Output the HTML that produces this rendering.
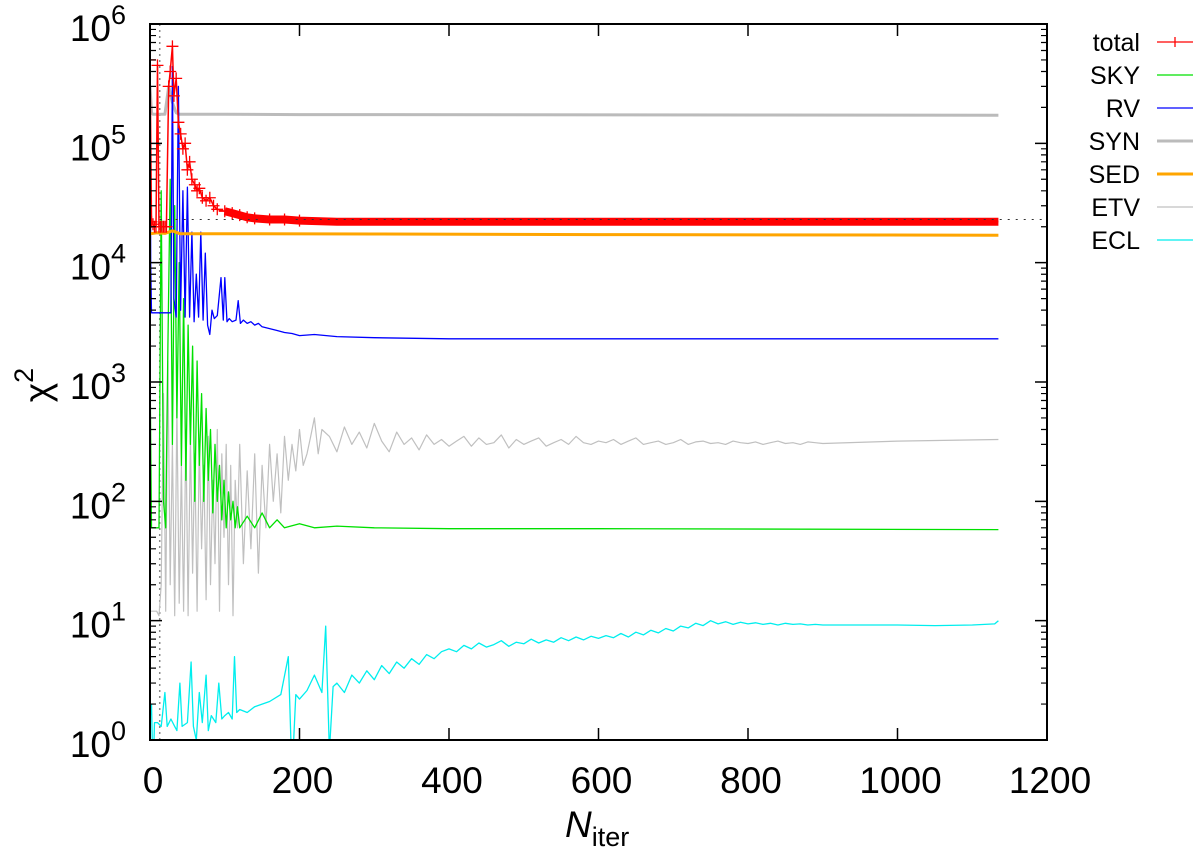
<!DOCTYPE html>
<html><head><meta charset="utf-8"><style>
html,body{margin:0;padding:0;background:#fff;}
svg{display:block;font-family:"Liberation Sans",sans-serif;}
</style></head><body>
<svg id="chart" width="1200" height="860" viewBox="0 0 1200 860" xmlns="http://www.w3.org/2000/svg">
<defs><clipPath id="plotclip"><rect x="150" y="24" width="897" height="716"/></clipPath></defs>
<g id="series" clip-path="url(#plotclip)"></g>
<g id="axes"></g>
<g id="legend"></g>
</svg>
<script>
// ---- data ----
const xTicks = [0,200,400,600,800,1000,1200];
const yDecades = [0,1,2,3,4,5,6];
const seriesNames = ["total","SKY","RV","SYN","SED","ETV","ECL"];

const totalN = [0,2,4,6,8,10,12,14,16,18,20,22,25,27,30,32,35,38,41,44,47,50,53,56,60,63,66,70,75,80,85,90,100,110,120,130,140,160,180,200,250,300,350,400,450,500,550,600,650,700,750,800,850,900,950,1000,1050,1100,1135];
const totalV = [5e5,2.2e4,2.1e4,2e4,2e4,4.5e5,2e4,2e4,2e4,2e4,2e4,2e4,3e5,4e5,6.5e5,2.5e5,3.5e5,1.5e5,1.2e5,9e4,1e5,6e4,7e4,5e4,4.5e4,4e4,4.2e4,3.5e4,3.3e4,3.5e4,3e4,2.8e4,2.7e4,2.6e4,2.5e4,2.4e4,2.35e4,2.3e4,2.3e4,2.25e4,2.2e4,2.2e4,2.2e4,2.2e4,2.2e4,2.2e4,2.2e4,2.2e4,2.2e4,2.2e4,2.2e4,2.2e4,2.2e4,2.2e4,2.2e4,2.2e4,2.2e4,2.2e4,2.2e4];

const skyN = [0,2,4,6,8,10,12,15,18,21,24,27,30,33,36,39,42,45,48,51,54,57,60,63,66,69,72,75,78,81,84,87,90,93,96,99,102,105,108,111,114,117,120,130,140,150,160,170,180,200,220,250,300,400,600,1135];
const skyV = [1500,60,60,60,60,60,60,4e4,100,60,2e3,5e4,300,3e4,500,1e4,200,5e3,150,3e3,300,2e3,100,1.5e3,200,800,100,600,150,400,80,300,100,200,70,150,60,120,70,100,60,90,60,75,60,80,60,70,60,65,60,62,60,59,59,58];

const rvN = [0,1,2,28,30,32,35,38,41,44,47,50,53,56,59,62,65,68,71,74,77,80,83,86,90,95,98,100,103,106,110,115,118,121,125,130,135,140,145,150,160,170,180,190,200,220,250,300,400,1135];
const rvV = [6e5,1e4,3.8e3,3.8e3,4.4e5,5e3,3.5e3,3e5,4e3,4e4,3.5e3,4.3e4,3.5e3,1.8e4,3.2e3,8e3,3.5e3,1.8e4,3.3e3,1.2e4,3e3,2.5e3,4e3,3.4e3,3.6e3,7.5e3,3.3e3,7.5e3,3.2e3,3.4e3,3.2e3,3.3e3,4.8e3,3.1e3,3.3e3,3.1e3,3.2e3,3e3,3.1e3,2.9e3,2.8e3,2.7e3,2.6e3,2.55e3,2.45e3,2.5e3,2.4e3,2.35e3,2.3e3,2.3e3];

const synN = [0,2,4,6,10,20,25,30,35,40,50,100,200,1135];
const synV = [3e5,1.8e5,1.75e5,1.75e5,1.75e5,1.75e5,3e5,2.2e5,1.8e5,1.75e5,1.75e5,1.75e5,1.74e5,1.72e5];

const sedN = [0,10,20,30,40,100,300,600,1135];
const sedV = [1.75e4,1.78e4,1.76e4,1.85e4,1.75e4,1.75e4,1.74e4,1.72e4,1.7e4];

const etvN = [0,3,6,9,12,15,18,21,24,27,30,33,36,39,42,45,48,51,54,57,60,63,66,69,72,75,78,81,84,87,90,93,96,99,102,105,108,111,114,117,120,
125,130,135,140,145,150,155,160,165,170,175,180,185,190,195,200,205,210,215,220,225,230,
240,250,260,270,280,290,300,310,320,330,340,350,360,370,380,390,400,
410,420,430,440,450,460,470,480,490,500,510,520,530,540,550,560,570,580,590,600,
610,620,630,640,650,660,670,680,690,700,710,720,730,740,750,760,770,780,790,800,810,820,830,840,850,860,870,880,890,900,1000,1135];
const etvV = [12,12,12,12,11,20,800,12,1500,20,300,11,600,14,200,12,400,11,350,25,250,12,300,40,200,15,350,20,150,30,400,12,250,50,300,20,200,11,150,60,300,
30,180,40,250,25,200,60,300,100,250,80,350,150,300,180,400,200,250,350,500,250,400,
350,260,420,300,380,280,450,320,260,380,300,340,270,360,300,330,290,
320,350,290,340,300,310,360,280,330,300,320,340,290,310,330,300,350,310,300,320,
310,330,300,320,340,300,310,320,300,310,330,300,315,320,305,310,300,320,310,305,315,300,310,320,305,310,300,315,310,305,320,330];

const eclN = [0,2,4,6,10,15,20,23,28,33,36,40,43,50,55,58,62,66,70,75,78,82,88,92,96,100,105,110,113,116,120,130,140,150,160,175,185,190,195,200,210,220,230,235,240,245,
250,260,270,280,290,300,310,320,330,340,350,360,370,380,390,400,
410,420,430,440,450,460,470,480,490,500,510,520,530,540,550,560,570,580,590,600,
610,620,630,640,650,660,670,680,690,700,710,720,730,740,750,760,770,780,790,800,810,820,830,840,850,860,870,880,890,900,
950,1000,1050,1100,1130,1135];
const eclV = [1.5,2,0.5,1.4,1.4,1.3,2.5,1.3,1.5,1.3,1.2,3,1.3,1.4,4.5,1.3,1,2.5,1.4,3.5,1.2,1.6,1.4,3,1.5,1.6,1.7,1.5,5,1.7,1.8,1.7,1.9,2,2.1,2.4,5,0.5,2.4,2.2,2.6,3.5,2.5,9,0.8,2.8,
3,2.5,3.5,3,3.8,3.2,4.2,3.6,4.5,4,4.8,4.3,5.2,4.8,5.5,5.8,
5.5,6.2,5.8,6.5,6,6.3,6.8,6.1,6.6,6.4,7,6.5,6.9,6.6,7.2,6.8,7.3,6.9,7.4,7.1,
7.5,7.2,7.8,7.3,8,7.6,8.3,7.9,8.6,8.2,9,8.7,9.5,9.1,10,9.4,9.8,9.3,9.7,9.4,9.6,9.3,9.5,9.2,9.5,9.3,9.4,9.2,9.3,9.2,
9.2,9.2,9.1,9.2,9.4,10];

// ---- scales ----
const X0=150, X1=1047, Y0=740, Y1=24;
function sx(n){return X0 + (n-0)/(1200-0)*(X1-X0);}
function sy(v){return Y0 - Math.log10(v)/6*(Y0-Y1);}
const NS="http://www.w3.org/2000/svg";
function mk(tag,attrs,parent){const e=document.createElementNS(NS,tag);for(const k in attrs)e.setAttribute(k,attrs[k]);parent.appendChild(e);return e;}
function pts(N,V,minN){let s=[];const n=Math.min(N.length,V.length);for(let i=0;i<n;i++){if(minN!==undefined&&N[i]<minN)continue;s.push(sx(N[i]).toFixed(1)+","+sy(V[i]).toFixed(1));}return s.join(" ");}

const gS=document.getElementById("series");
let dv=mk("line",{x1:sx(13),x2:sx(13),y1:Y1,y2:Y0,stroke:"#888","stroke-width":1.5,"stroke-dasharray":"2,4"},gS);



function drawLine(N,V,color,w,name){
  const p=mk("polyline",{points:pts(N,V),fill:"none",stroke:color,"stroke-width":w,"stroke-linejoin":"round"},gS);
  
  
  return p;
}
drawLine(synN,synV,"#bbbbbb",3,"syn-line");
drawLine(etvN,etvV,"#c0c0c0",1.2,"etv-line");
drawLine(eclN,eclV,"#00eeee",1.3,"ecl-line");
drawLine(skyN,skyV,"#00e000",1.3,"sky-line");
drawLine(rvN,rvV,"#0000ff",1.3,"rv-line");
drawLine(sedN,sedV,"#ffa500",3,"sed-line");
drawLine(totalN,totalV,"#ff0000",1.5,"total-line");
const band=mk("polyline",{points:pts(totalN,totalV,100),fill:"none",stroke:"#ff0000","stroke-width":8},gS);


const hd=mk("line",{x1:sx(13),x2:X1,y1:sy(2.3e4),y2:sy(2.3e4),stroke:"#333","stroke-width":1,"stroke-dasharray":"2,6"},gS);


for(let i=0;i<Math.min(totalN.length,totalV.length);i++){
  if(totalN[i]>=250)continue;
  const x=sx(totalN[i]),y=sy(totalV[i]);
  const m=mk("path",{d:`M${x-6},${y}H${x+6}M${x},${y-6}V${y+6}`,stroke:"#ff0000","stroke-width":1.3,fill:"none"},gS);
  
  
}

// ---- axes ----
const gA=document.getElementById("axes");
const fr=mk("rect",{x:X0,y:Y1,width:X1-X0,height:Y0-Y1,fill:"none",stroke:"#000","stroke-width":2},gA);


xTicks.forEach(t=>{
  const x=sx(t);
  const tk=mk("path",{d:`M${x},${Y0}V${Y0-12}M${x},${Y1}V${Y1+12}`,stroke:"#000","stroke-width":1.5},gA);
  
  
  const tx=mk("text",{x:x+3,y:793,"font-size":37,"text-anchor":"middle",fill:"#000"},gA);
  tx.textContent=t;
  
  
});
yDecades.forEach(d=>{
  const y=sy(Math.pow(10,d));
  const tk=mk("path",{d:`M${X0},${y}H${X0+12}M${X1},${y}H${X1-12}`,stroke:"#000","stroke-width":1.5},gA);
  
  
  if(d<6){for(let k=2;k<10;k++){const ym=sy(k*Math.pow(10,d));
    const mt=mk("path",{d:`M${X0},${ym}H${X0+6}M${X1},${ym}H${X1-6}`,stroke:"#000","stroke-width":1.2},gA);
    
    }}
  const tx=mk("text",{x:126,y:y+17,"font-size":37,"text-anchor":"end",fill:"#000"},gA);
  tx.innerHTML=`10<tspan dy="-17" font-size="27">${d}</tspan>`;
  
  
});
const yt=mk("text",{x:0,y:0,"font-size":37,"text-anchor":"middle",fill:"#000",transform:"translate(50,385) rotate(-90)"},gA);
yt.innerHTML=`χ<tspan dy="-17" font-size="27">2</tspan>`;


const xt=mk("text",{x:565,y:837,"font-size":37,fill:"#000"},gA);
xt.innerHTML=`<tspan font-style="italic">N</tspan><tspan dy="9" font-size="27">iter</tspan>`;



// ---- legend ----
const gL=document.getElementById("legend");
const legColors=["#ff0000","#00e000","#0000ff","#bbbbbb","#ffa500","#c0c0c0","#00eeee"];
const legWidths=[1.3,1.3,1.3,3,3,1.3,1.3];
seriesNames.forEach((nm,i)=>{
  const y=42+i*33;
  const t=mk("text",{x:1140,y:y+9,"font-size":25,"text-anchor":"end",fill:"#000"},gL);
  t.textContent=nm;
  
  
  const l=mk("line",{x1:1157,x2:1193,y1:y,y2:y,stroke:legColors[i],"stroke-width":legWidths[i]},gL);
  
  
  if(i===0){const m=mk("path",{d:`M1175,${y-5}V${y+5}`,stroke:"#ff0000","stroke-width":1.3},gL);
    
    }
});
</script>
</body></html>
